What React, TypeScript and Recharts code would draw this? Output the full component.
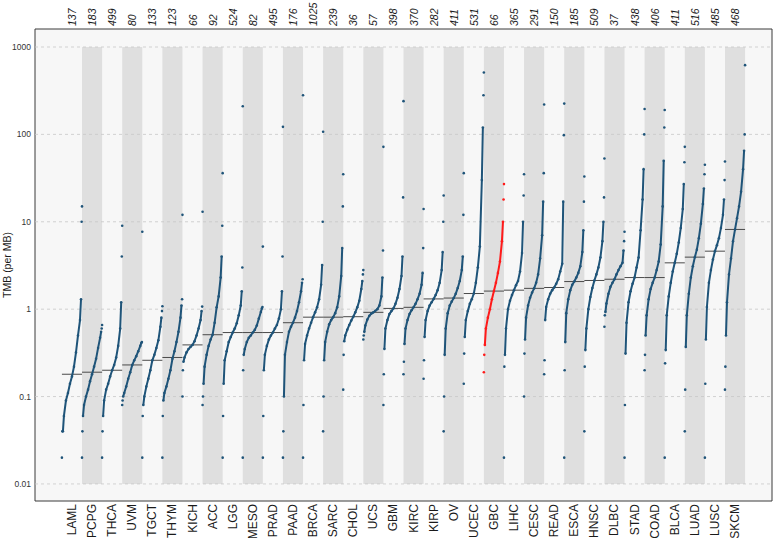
import {
  ComposedChart,
  XAxis,
  YAxis,
  Scatter,
  ReferenceArea,
  ReferenceLine
} from "recharts";

const cancers = [
  "LAML", "PCPG", "THCA", "UVM", "TGCT", "THYM", "KICH", "ACC", "LGG", "MESO",
  "PRAD", "PAAD", "BRCA", "SARC", "CHOL", "UCS", "GBM", "KIRC", "KIRP", "OV",
  "UCEC", "GBC", "LIHC", "CESC", "READ", "ESCA", "HNSC", "DLBC", "STAD", "COAD",
  "BLCA", "LUAD", "LUSC", "SKCM"
];
const counts = [
  137, 183, 499, 80, 133, 123, 66, 92, 524, 82, 495, 176, 1025, 239, 36, 57, 398,
  370, 282, 411, 531, 66, 365, 291, 150, 185, 509, 37, 438, 406, 411, 516, 485, 468
];
const medians = [
  0.18, 0.19, 0.2, 0.23, 0.26, 0.28, 0.39, 0.51, 0.54, 0.54, 0.54, 0.7, 0.81, 0.81,
  0.82, 0.92, 1.02, 1.05, 1.31, 1.34, 1.51, 1.61, 1.65, 1.73, 1.77, 2.07, 2.13, 2.2,
  2.3, 2.3, 3.39, 3.94, 4.61, 8.17
];
const yTicks = [0.01, 0.1, 1, 10, 100, 1000];

// position of each read value inside its column (share of the sorted samples)
const fractions = [0, 0.02, 0.05, 0.1, 0.2, 0.3, 0.4, 0.5, 0.6, 0.7, 0.8, 0.9, 0.95, 0.98, 1];

const LAML = [0.02, 0.04, 0.04, 0.06, 0.09, 0.11, 0.14, 0.17, 0.22, 0.32, 0.5, 0.75, 1.3, 10, 15];
const PCPG = [0.02, 0.04, 0.06, 0.08, 0.1, 0.12, 0.15, 0.18, 0.22, 0.27, 0.36, 0.47, 0.55, 0.6, 0.66];
const THCA = [0.02, 0.04, 0.06, 0.09, 0.12, 0.14, 0.17, 0.2, 0.23, 0.28, 0.38, 0.6, 1.2, 4, 9];
const UVM = [0.08, 0.09, 0.1, 0.11, 0.13, 0.16, 0.19, 0.23, 0.26, 0.29, 0.33, 0.38, 0.41, 0.42, 7.7];
const TGCT = [0.02, 0.06, 0.08, 0.1, 0.13, 0.16, 0.2, 0.26, 0.3, 0.36, 0.44, 0.63, 0.8, 0.95, 1.08];
const THYM = [0.02, 0.06, 0.09, 0.11, 0.13, 0.16, 0.2, 0.27, 0.33, 0.42, 0.55, 0.8, 1.1, 1.3, 12];
const KICH = [0.1, 0.2, 0.25, 0.28, 0.32, 0.35, 0.37, 0.39, 0.43, 0.5, 0.6, 0.75, 0.95, 1.07, 13];
const ACC = [0.08, 0.1, 0.14, 0.22, 0.3, 0.38, 0.45, 0.51, 0.7, 1.05, 1.4, 2.3, 4, 9, 36];
const LGG = [0.02, 0.06, 0.14, 0.26, 0.33, 0.42, 0.48, 0.54, 0.6, 0.69, 0.85, 1.1, 1.6, 3, 210];
const MESO = [0.02, 0.2, 0.3, 0.35, 0.42, 0.47, 0.5, 0.54, 0.58, 0.65, 0.78, 0.93, 1.02, 1.06, 5.2];
const PRAD = [0.02, 0.06, 0.2, 0.3, 0.38, 0.45, 0.5, 0.54, 0.6, 0.66, 0.78, 1.0, 1.6, 4, 122];
const PAAD = [0.02, 0.04, 0.1, 0.3, 0.42, 0.55, 0.63, 0.7, 0.8, 0.95, 1.2, 1.6, 2.0, 2.2, 280];
const BRCA = [0.02, 0.08, 0.26, 0.4, 0.5, 0.6, 0.7, 0.81, 0.92, 1.05, 1.3, 1.9, 3.2, 10, 107];
const SARC = [0.04, 0.1, 0.26, 0.42, 0.55, 0.67, 0.75, 0.81, 0.9, 1.05, 1.4, 2.4, 5, 15, 35];
const CHOL = [0.12, 0.3, 0.43, 0.5, 0.58, 0.66, 0.74, 0.82, 0.92, 1.05, 1.25, 1.7, 2.1, 2.5, 2.8];
const UCS = [0.45, 0.5, 0.55, 0.65, 0.76, 0.84, 0.89, 0.92, 0.96, 1.0, 1.1, 1.4, 2.3, 4.7, 72];
const GBM = [0.08, 0.18, 0.35, 0.6, 0.75, 0.88, 0.95, 1.02, 1.15, 1.35, 1.7, 2.4, 4, 19, 240];
const KIRC = [0.18, 0.25, 0.4, 0.6, 0.75, 0.88, 0.97, 1.05, 1.15, 1.3, 1.5, 1.9, 2.6, 5, 14];
const KIRP = [0.16, 0.26, 0.48, 0.75, 0.95, 1.1, 1.2, 1.31, 1.45, 1.65, 2.0, 2.8, 4.5, 10, 20];
const OV = [0.04, 0.1, 0.3, 0.6, 0.9, 1.1, 1.22, 1.34, 1.5, 1.75, 2.1, 2.8, 4, 12, 36];
const UCEC = [0.14, 0.31, 0.48, 0.75, 0.95, 1.15, 1.3, 1.51, 2.0, 3, 5.2, 30, 120, 280, 510];
const GBC = [0.19, 0.3, 0.39, 0.6, 0.8, 1.0, 1.3, 1.61, 2.0, 2.6, 3.5, 6, 10, 18, 27];
const LIHC = [0.02, 0.22, 0.3, 0.6, 1.0, 1.25, 1.45, 1.65, 1.88, 2.1, 2.7, 4.4, 10, 20, 35];
const CESC = [0.1, 0.31, 0.45, 0.8, 1.1, 1.35, 1.55, 1.73, 2.0, 2.5, 3.8, 7, 17, 36, 220];
const READ = [0.18, 0.26, 0.75, 1.06, 1.3, 1.5, 1.65, 1.77, 1.95, 2.2, 2.7, 3.3, 17, 98, 225];
const ESCA = [0.02, 0.2, 0.42, 0.9, 1.3, 1.65, 1.9, 2.07, 2.3, 2.6, 3.1, 4.5, 8, 17, 33];
const HNSC = [0.04, 0.22, 0.34, 0.6, 1.0, 1.38, 1.75, 2.13, 2.5, 3.0, 3.9, 6, 10, 19, 53];
const DLBC = [0.63, 0.85, 0.93, 1.16, 1.5, 1.8, 2.0, 2.2, 2.5, 2.8, 3.1, 3.4, 4.7, 6, 7.7];
const STAD = [0.02, 0.08, 0.31, 0.7, 1.2, 1.6, 1.95, 2.3, 3.0, 3.9, 8, 18, 40, 100, 195];
const COAD = [0.2, 0.3, 0.5, 0.85, 1.3, 1.7, 2.0, 2.3, 2.8, 3.5, 5.5, 15, 50, 120, 190];
const BLCA = [0.02, 0.24, 0.34, 0.85, 1.4, 2.0, 2.7, 3.39, 4.3, 5.8, 8.5, 14, 27, 48, 72];
const LUAD = [0.04, 0.12, 0.37, 0.85, 1.5, 2.3, 3.1, 3.94, 4.8, 6.5, 9.5, 16, 24, 35, 45];
const LUSC = [0.02, 0.14, 0.45, 1.06, 2.0, 2.8, 3.7, 4.61, 5.4, 6.5, 8.5, 12, 18, 30, 49];
const SKCM = [0.12, 0.22, 0.5, 1.2, 2.5, 3.8, 6, 8.17, 11, 15, 22, 40, 65, 100, 620];

const curves = [
  LAML, PCPG, THCA, UVM, TGCT, THYM, KICH, ACC, LGG, MESO, PRAD, PAAD, BRCA, SARC,
  CHOL, UCS, GBM, KIRC, KIRP, OV, UCEC, GBC, LIHC, CESC, READ, ESCA, HNSC, DLBC,
  STAD, COAD, BLCA, LUAD, LUSC, SKCM
];

const BLUE = "#1f5479";
const RED = "#ff1a1a";
const X_DOMAIN = [-1.34, 35.34];
const Y_DOMAIN = [0.00638, 1607];
const FONT = "'Liberation Sans', Arial, sans-serif";

const colorOf = (i: number) => (cancers[i] === "GBC" ? RED : BLUE);

function Dot(color: string) {
  return (p: any) => <circle cx={p.cx} cy={p.cy} r={1.3} fill={color} />;
}

function BottomTick({ x, y, payload }: any) {
  const name = cancers[Math.floor(payload.value)];
  return (
    <text x={x} y={y} transform={`rotate(-90, ${x}, ${y})`} textAnchor="end"
      dominantBaseline="central" fontSize={12} fill="#1a1a1a" fontFamily={FONT}>
      {name}
    </text>
  );
}

function TopTick({ x, y, payload }: any) {
  const n = counts[Math.floor(payload.value)];
  return (
    <text x={x} y={y} transform={`rotate(-90, ${x}, ${y})`} textAnchor="start"
      dominantBaseline="central" fontSize={10.5} fontStyle="italic" fill="#1a1a1a" fontFamily={FONT}>
      {n}
    </text>
  );
}

const App = () => {
  const centers = cancers.map((_, i) => i + 0.5);
  return (
    <div style={{ position: "absolute", left: 0, top: 0, width: 775, height: 538, background: "#fff", fontFamily: FONT }}>
      <ComposedChart width={775} height={538} margin={{ top: 0, right: 3, bottom: 0, left: 0 }}>
        <XAxis xAxisId="bottom" type="number" dataKey="x" domain={X_DOMAIN} allowDataOverflow
          ticks={centers} interval={0} axisLine={false} tickLine={false} tickSize={0} tickMargin={3}
          height={37} tick={<BottomTick />} />
        <XAxis xAxisId="top" orientation="top" type="number" dataKey="x" domain={X_DOMAIN} allowDataOverflow
          ticks={centers} interval={0} axisLine={false} tickLine={false} tickSize={0} tickMargin={3}
          height={29} tick={<TopTick />} />
        <YAxis type="number" dataKey="y" scale="log" domain={Y_DOMAIN} allowDataOverflow ticks={yTicks}
          width={35} axisLine={false} tickLine={false} tickSize={4} tickMargin={0}
          tick={{ fontSize: 8.5, fill: "#333", fontFamily: FONT }}
          label={{
            content: ({ viewBox }: any) => (
              <text x={6.5} y={viewBox.y + viewBox.height / 2} transform={`rotate(-90, 6.5, ${viewBox.y + viewBox.height / 2})`}
                textAnchor="middle" dominantBaseline="central" fontSize={10.5} fill="#1a1a1a" fontFamily={FONT}>
                TMB (per MB)
              </text>
            )
          }} />

        <ReferenceArea xAxisId="bottom" x1={X_DOMAIN[0]} x2={X_DOMAIN[1]} y1={Y_DOMAIN[0]} y2={Y_DOMAIN[1]}
          fill="#f7f7f7" fillOpacity={1} stroke="#3a3a3a" strokeWidth={1} ifOverflow="visible" />
        {cancers.map((c, i) =>
          i % 2 === 1 ? (
            <ReferenceArea key={"band" + c} xAxisId="bottom" x1={i} x2={i + 1} y1={0.01} y2={1000}
              fill="#dfdfdf" fillOpacity={1} stroke="none" />
          ) : null
        )}
        {yTicks.map((t) => (
          <ReferenceLine key={"g" + t} xAxisId="bottom" y={t} stroke="#c8c8c8" strokeWidth={0.8} strokeDasharray="3 3" />
        ))}

        {curves.map((vals, i) => {
          const pts = vals.map((v, k) => ({ x: i + fractions[k], y: v }));
          const core = pts.slice(2, 13);
          const tails = [pts[0], pts[1], pts[13], pts[14]];
          const col = colorOf(i);
          return [
            <Scatter key={"core" + i} xAxisId="bottom" data={core} isAnimationActive={false}
              line={{ stroke: col, strokeWidth: 2 }} lineType="joint" shape={Dot(col)} />,
            <Scatter key={"tail" + i} xAxisId="bottom" data={tails} isAnimationActive={false} shape={Dot(col)} />
          ];
        })}

        {medians.map((m, i) => (
          <ReferenceLine key={"m" + i} xAxisId="bottom" segment={[{ x: i, y: m }, { x: i + 1, y: m }]}
            stroke="#4a4a4a" strokeWidth={1} />
        ))}
      </ComposedChart>
    </div>
  );
};

export default App;
